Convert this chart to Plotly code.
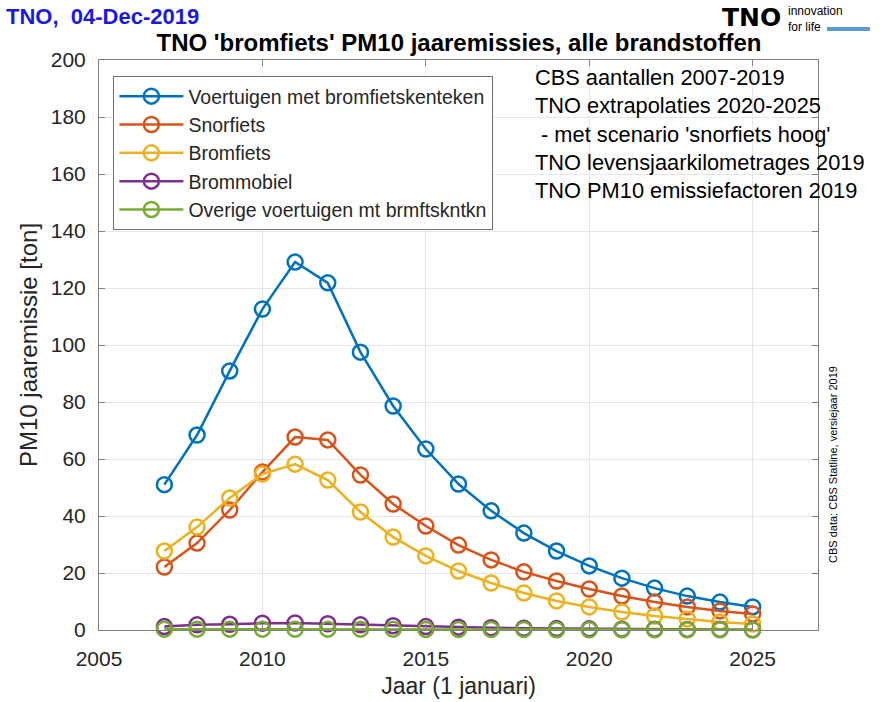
import plotly.graph_objects as go

# Years and PM10 annual emissions [ton] per vehicle category
years = list(range(2007, 2026))

voertuigen_bromfietskenteken = [51.0, 68.4, 90.9, 112.6, 129.1, 121.8, 97.5, 78.6, 63.5, 51.2,
                                41.8, 34.0, 27.7, 22.5, 18.2, 14.7, 11.9, 9.8, 8.1]
snorfiets = [22.1, 30.5, 42.1, 55.4, 67.7, 66.7, 54.4, 44.2, 36.5, 29.8,
             24.6, 20.4, 17.2, 14.4, 11.9, 9.8, 8.1, 6.7, 5.6]
bromfiets = [27.7, 36.1, 46.3, 54.7, 58.2, 52.6, 41.4, 32.6, 26.0, 20.7,
             16.5, 13.0, 10.2, 8.1, 6.3, 4.9, 3.9, 2.8, 2.1]
brommobiel = [1.2, 1.8, 2.0, 2.4, 2.5, 2.2, 1.8, 1.5, 1.2, 1.0,
              0.8, 0.6, 0.5, 0.4, 0.3, 0.3, 0.2, 0.2, 0.1]
overige = [0.3, 0.3, 0.3, 0.3, 0.3, 0.3, 0.3, 0.3, 0.2, 0.2,
           0.2, 0.2, 0.1, 0.1, 0.1, 0.1, 0.1, 0.1, 0.1]

series_names = ["Voertuigen met bromfietskenteken", "Snorfiets", "Bromfiets",
                "Brommobiel", "Overige voertuigen mt brmftskntkn"]
series_values = [voertuigen_bromfietskenteken, snorfiets, bromfiets, brommobiel, overige]
series_colors = ["#0072BD", "#D95319", "#EDB120", "#7E2F8E", "#77AC30"]

source_lines = ["CBS aantallen 2007-2019",
                "TNO extrapolaties 2020-2025",
                " - met scenario 'snorfiets hoog'",
                "TNO levensjaarkilometrages 2019",
                "TNO PM10 emissiefactoren 2019"]

x_ticks = [2005, 2010, 2015, 2020, 2025]
y_ticks = list(range(0, 201, 20))

FONT = "Liberation Sans, Arial, sans-serif"

# Plot-area geometry in pixels (used to place the free text in paper coords)
W, H = 880, 702
L, R, T, B = 99, 62, 60, 72
PW, PH = W - L - R, H - T - B


def px(x):
    return (x - L) / PW


def py(y):
    return (H - B - y) / PH


fig = go.Figure()
for name, vals, col in zip(series_names, series_values, series_colors):
    fig.add_trace(go.Scatter(
        x=years, y=vals, name=name, mode="lines+markers", cliponaxis=False,
        line=dict(color=col, width=2.5),
        marker=dict(symbol="circle-open", size=15, color=col, line=dict(width=2.5)),
    ))

axis_common = dict(
    showline=True, linecolor="#808080", linewidth=1, mirror="ticks",
    ticks="inside", ticklen=6, tickcolor="#808080",
    showgrid=True, gridcolor="#e6e6e6", gridwidth=1, zeroline=False,
    automargin=False,
    tickfont=dict(family=FONT, size=21, color="#262626"),
)

fig.update_layout(
    width=W, height=H,
    margin=dict(l=L, r=R, t=T, b=B),
    paper_bgcolor="white", plot_bgcolor="white",
    font=dict(family=FONT, color="#262626"),
    xaxis=dict(range=[2005, 2027], tickvals=x_ticks, ticklabelstandoff=10,
               title=dict(text="Jaar (1 januari)", font=dict(size=23, family=FONT), standoff=8),
               **axis_common),
    yaxis=dict(range=[0, 200], tickvals=y_ticks, ticklabelstandoff=8,
               title=dict(text="PM10 jaaremissie [ton]", font=dict(size=24, family=FONT), standoff=6),
               **axis_common),
    showlegend=True,
    legend=dict(x=0.02, y=0.972, xanchor="left", yanchor="top",
                bgcolor="white", bordercolor="#707070", borderwidth=1,
                font=dict(family=FONT, size=19.5, color="#262626"),
                itemwidth=64, tracegroupgap=0),
    title=dict(text="<b>TNO 'bromfiets' PM10 jaaremissies, alle brandstoffen</b>",
               x=459 / W, xanchor="center",
               y=1 - 43 / H, yanchor="middle",
               font=dict(family=FONT, size=24, color="black")),
)

# Data sources block (top right inside the axes)
fig.add_annotation(
    xref="paper", yref="paper", x=px(533), y=py(63), xanchor="left", yanchor="top",
    text="<br>".join(source_lines), showarrow=False, align="left",
    font=dict(family=FONT, size=21.8, color="black"),
)

# Date stamp top-left
fig.add_annotation(
    xref="paper", yref="paper", x=px(4), y=py(17),
    xanchor="left", yanchor="middle", showarrow=False,
    text="<b>TNO,  04-Dec-2019</b>",
    font=dict(family=FONT, size=22, color="#1a1adf"),
)

# Logo
fig.add_annotation(
    xref="paper", yref="paper", x=px(720), y=py(18),
    xanchor="left", yanchor="middle", showarrow=False,
    text="<b>TNO</b>", font=dict(family="DejaVu Sans", size=25, color="black"),
)
fig.add_annotation(
    xref="paper", yref="paper", x=px(786), y=py(19),
    xanchor="left", yanchor="middle", showarrow=False, align="left",
    text="innovation<br>for life", font=dict(family=FONT, size=12, color="black"),
)
fig.add_shape(type="rect", xref="paper", yref="paper",
              x0=px(827), x1=px(870), y0=py(31), y1=py(27),
              fillcolor="#5b9bd5", line=dict(width=0))

# Vertical source note on the right
fig.add_annotation(
    xref="paper", yref="paper", x=px(833), y=py(465),
    xanchor="center", yanchor="middle", showarrow=False, textangle=-90,
    text="CBS data: CBS Statline, versiejaar 2019",
    font=dict(family=FONT, size=11, color="black"),
)

fig.write_html("out.html")
